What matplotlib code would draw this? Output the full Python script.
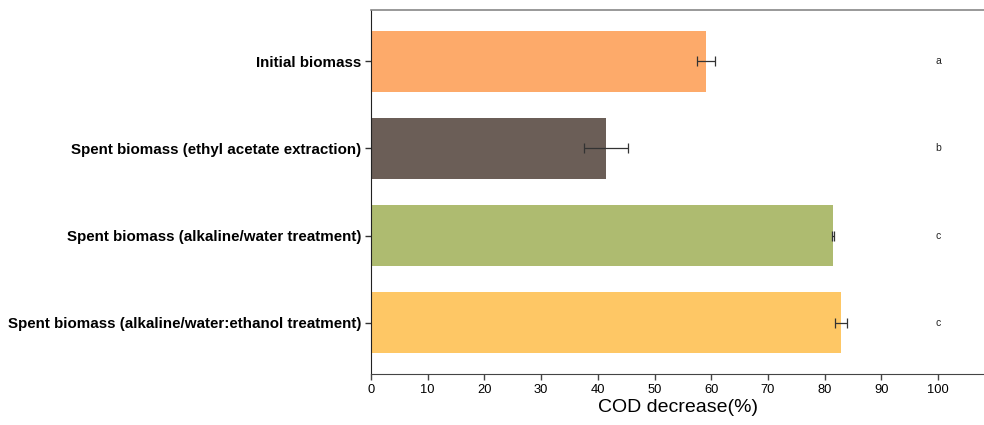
import matplotlib
matplotlib.use("Agg")
import matplotlib.pyplot as plt

categories = [
    "Initial biomass",
    "Spent biomass (ethyl acetate extraction)",
    "Spent biomass (alkaline/water treatment)",
    "Spent biomass (alkaline/water:ethanol treatment)",
]
cod_decrease = [59.1, 41.4, 81.5, 82.9]
cod_error = [1.6, 3.9, 0.2, 1.1]
letters = ["a", "b", "c", "c"]
colors = ["#FDAA6A", "#6B5E57", "#AEBB70", "#FEC765"]
x_ticks = [0, 10, 20, 30, 40, 50, 60, 70, 80, 90, 100]

plt.rcParams["font.family"] = ["Liberation Sans", "DejaVu Sans"]

fig = plt.figure(figsize=(9.84, 4.25), dpi=100)
ax = fig.add_axes([371 / 984, 1 - 374 / 425, (984 - 371) / 984, (374 - 10) / 425])

y = list(range(len(categories)))
ax.barh(y, cod_decrease, height=0.7, color=colors, edgecolor="none",
        xerr=cod_error, error_kw=dict(ecolor="#333333", elinewidth=0.9,
                                      capsize=3.5, capthick=0.9))

for yi, letter in zip(y, letters):
    ax.text(100, yi, letter, ha="center", va="center", fontsize=7.5, color="#222222")

ax.set_xlim(0, 108.1)
ax.set_ylim(3.59, -0.59)
ax.set_yticks(y)
ax.set_yticklabels(categories, fontsize=10.9, fontweight="bold")
ax.set_xticks(x_ticks)
ax.set_xticklabels([str(t) for t in x_ticks], fontsize=9.3)
ax.set_xlabel("COD decrease(%)", fontsize=14, labelpad=2)

ax.spines["right"].set_visible(False)
ax.spines["top"].set_color("#888888")
ax.spines["top"].set_linewidth(1.2)
ax.spines["left"].set_color("#222222")
ax.spines["bottom"].set_color("#444444")
ax.tick_params(axis="y", length=4, width=1, color="#333333", pad=3)
ax.tick_params(axis="x", length=4, width=1, color="#444444", pad=3)

fig.savefig("out.png", dpi=100)
